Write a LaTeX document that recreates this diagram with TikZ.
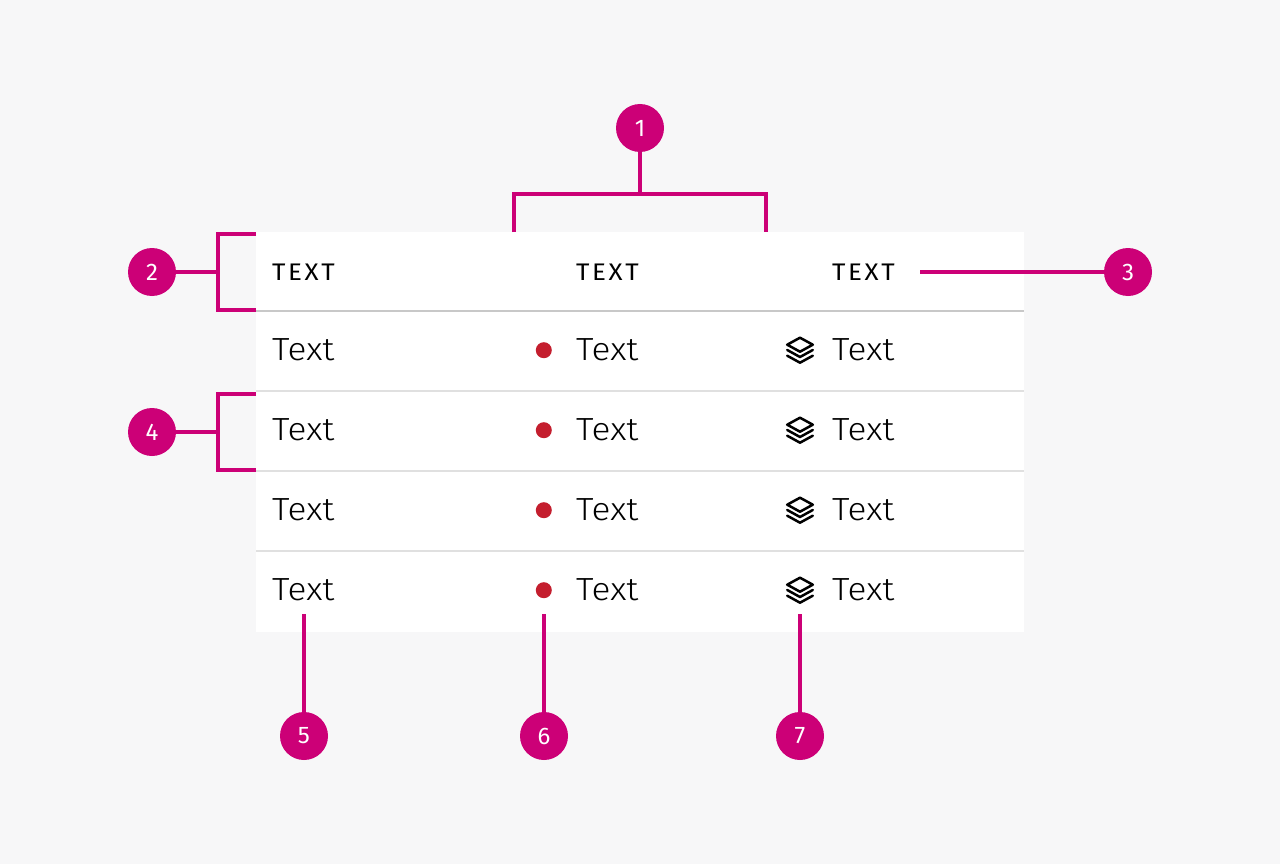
\documentclass[tikz,border=0pt]{standalone}
\usepackage{fontspec}
\usetikzlibrary{matrix,positioning}
\setmainfont[FakeStretch=1.1]{Fira Sans Light}
\newfontfamily\headfont[FakeStretch=1.08,LetterSpace=11]{Fira Sans}
\newfontfamily\numfont{Fira Sans}
\definecolor{callout}{HTML}{CC0077}
\definecolor{canvas}{HTML}{F7F7F8}
\definecolor{headrule}{HTML}{C8C8C8}
\definecolor{rowrule}{HTML}{E0E0E0}
\definecolor{marker}{HTML}{C41E2E}
\tikzset{
	badge/.style={circle, fill=callout, text=white, minimum size=48pt, inner sep=0pt, font=\numfont\fontsize{24}{24}\selectfont},
	lead/.style={draw=callout, line width=4pt},
	reddot/.style={circle, fill=marker, minimum size=16pt, inner sep=0pt},
	layers/.pic={
		\draw[line width=2.5pt, line join=round, line cap=round]
		(0,-12.5) -- (12.8,-5.5) -- (0,1.5) -- (-12.8,-5.5) -- cycle
		(-12.8,-0.2) -- (0,6.8) -- (12.8,-0.2)
		(-12.8,5.5) -- (0,12.5) -- (12.8,5.5);
	}
}
\begin{document}
\begin{tikzpicture}[x=1pt, y=-1pt]
	\useasboundingbox (0,0) rectangle (1280,864);
	\fill[canvas] (0,0) rectangle (1280,864);
	\fill[white] (256,232) rectangle (1024,632);
	% rules under the rows
	\draw[headrule, line width=2pt] (256,311) -- (1024,311);
	\draw[rowrule, line width=2pt] (256,391) -- (1024,391);
	\draw[rowrule, line width=2pt] (256,471) -- (1024,471);
	\draw[rowrule, line width=2pt] (256,551) -- (1024,551);

	\matrix (t) [matrix of nodes, anchor=north west, inner sep=0pt, row sep=0pt, column sep=0pt,
		nodes={inner sep=0pt, minimum height=80pt, text height=22pt, text depth=6pt, font=\fontsize{32}{32}\selectfont},
		column 1/.style={nodes={text width=304pt}},
		column 2/.style={nodes={text width=256pt}},
		column 3/.style={nodes={text width=192pt}},
		row 1/.style={nodes={font=\headfont\fontsize{24}{24}\selectfont}}]
	at (272,232)
	{
		TEXT & TEXT & TEXT \\
		Text & Text & Text \\
		Text & Text & Text \\
		Text & Text & Text \\
		Text & Text & Text \\
	};

	\node[reddot, left=24pt of t-2-2.west, yshift=2pt] (d2) {};
	\node[reddot, left=24pt of t-3-2.west, yshift=2pt] (d3) {};
	\node[reddot, left=24pt of t-4-2.west, yshift=2pt] (d4) {};
	\node[reddot, left=24pt of t-5-2.west, yshift=2pt] (d5) {};
	\pic[xshift=-32pt, yshift=2pt] at (t-2-3.west) {layers};
	\pic[xshift=-32pt, yshift=2pt] at (t-3-3.west) {layers};
	\pic[xshift=-32pt, yshift=2pt] at (t-4-3.west) {layers};
	\pic[xshift=-32pt, yshift=2pt] at (t-5-3.west) {layers};

	\node[badge] (n1) at (640,128) {1};
	\node[badge] (n2) at (152,272) {2};
	\node[badge] (n3) at (1128,272) {3};
	\node[badge] (n4) at (152,432) {4};
	\node[badge] (n5) at (304,736) {5};
	\node[badge] (n6) at (544,736) {6};
	\node[badge] (n7) at (800,736) {7};

	\coordinate (b1a) at (514,232);
	\coordinate (b1b) at (514,194);
	\coordinate (b1m) at (640,194);
	\coordinate (b1c) at (766,194);
	\coordinate (b1d) at (766,232);
	\coordinate (b2a) at (256,234);
	\coordinate (b2b) at (218,234);
	\coordinate (b2m) at (218,272);
	\coordinate (b2c) at (218,310);
	\coordinate (b2d) at (256,310);
	\coordinate (b4a) at (256,394);
	\coordinate (b4b) at (218,394);
	\coordinate (b4m) at (218,432);
	\coordinate (b4c) at (218,470);
	\coordinate (b4d) at (256,470);
	\coordinate (c3) at (920,272);
	\coordinate (c5) at (304,614);
	\coordinate (c6) at (544,614);
	\coordinate (c7) at (800,614);

	\draw[lead] (b1a) -- (b1b) -- (b1c) -- (b1d);
	\draw[lead] (b2a) -- (b2b) -- (b2c) -- (b2d);
	\draw[lead] (b4a) -- (b4b) -- (b4c) -- (b4d);
	\path[lead]
	(n1) edge (b1m)
	(n2) edge (b2m)
	(n3) edge (c3)
	(n4) edge (b4m)
	(n5) edge (c5)
	(n6) edge (c6)
	(n7) edge (c7);
\end{tikzpicture}
\end{document}
